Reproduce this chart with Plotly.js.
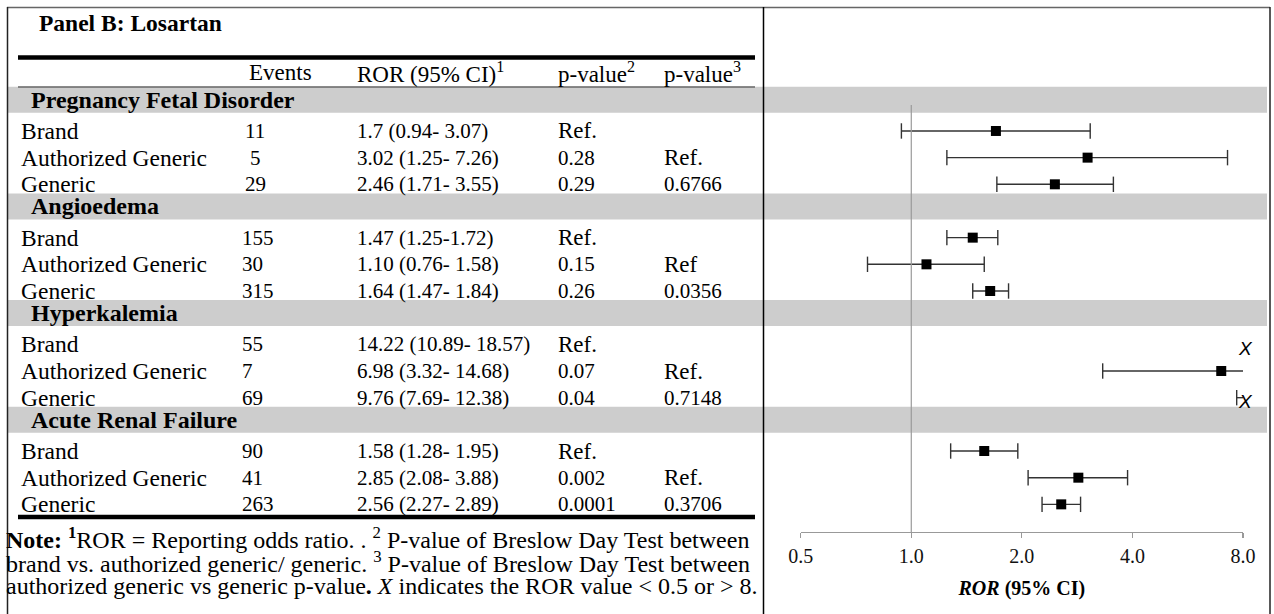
<!DOCTYPE html>
<html>
<head>
<meta charset="utf-8">
<script src="https://cdn.plot.ly/plotly-3.0.1.min.js"></script>
<style>html,body{margin:0;padding:0;background:#fff;}#chart{width:1274px;height:614px;}</style>
</head>
<body>
<div id="chart"></div>
<script>
// ---------------- data ----------------
const panelTitle = 'Panel B: Losartan';
const categories = ['Pregnancy Fetal Disorder', 'Angioedema', 'Hyperkalemia', 'Acute Renal Failure'];
const groups = ['Brand', 'Authorized Generic', 'Generic'];
const events = [[11, 5, 29], [155, 30, 315], [55, 7, 69], [90, 41, 263]];
const ror = [[1.7, 3.02, 2.46], [1.47, 1.10, 1.64], [14.22, 6.98, 9.76], [1.58, 2.85, 2.56]];
const ciLow = [[0.94, 1.25, 1.71], [1.25, 0.76, 1.47], [10.89, 3.32, 7.69], [1.28, 2.08, 2.27]];
const ciHigh = [[3.07, 7.26, 3.55], [1.72, 1.58, 1.84], [18.57, 14.68, 12.38], [1.95, 3.88, 2.89]];
const rorLabels = [
  ['1.7 (0.94- 3.07)', '3.02 (1.25- 7.26)', '2.46 (1.71- 3.55)'],
  ['1.47 (1.25-1.72)', '1.10 (0.76- 1.58)', '1.64 (1.47- 1.84)'],
  ['14.22 (10.89- 18.57)', '6.98 (3.32- 14.68)', '9.76 (7.69- 12.38)'],
  ['1.58 (1.28- 1.95)', '2.85 (2.08- 3.88)', '2.56 (2.27- 2.89)']
];
const pval2 = [['Ref.', '0.28', '0.29'], ['Ref.', '0.15', '0.26'], ['Ref.', '0.07', '0.04'], ['Ref.', '0.002', '0.0001']];
const pval3 = [['', 'Ref.', '0.6766'], ['', 'Ref', '0.0356'], ['', 'Ref.', '0.7148'], ['', 'Ref.', '0.3706']];
const headers = ['Events', 'ROR (95% CI)<sup>1</sup>', 'p-value<sup>2</sup>', 'p-value<sup>3</sup>'];
const tickVals = [0.5, 1, 2, 4, 8];
const tickText = ['0.5', '1.0', '2.0', '4.0', '8.0'];
const axisTitle = '<b><i>ROR</i> (95% CI)</b>';
const outMark = 'X';
const noteLines = [
  '<b>Note: <sup>1</sup></b>ROR = Reporting odds ratio. . <sup>2</sup> P-value of Breslow Day Test between',
  'brand vs. authorized generic/ generic. <sup>3</sup> P-value of Breslow Day Test between',
  'authorized generic vs generic p-value<b>.</b> <i>X</i> indicates the ROR value &lt; 0.5 or &gt; 8.'
];

// ---------------- layout geometry ----------------
const W = 1274, H = 614;
const ROW_PX = 26.67, ROW0 = 104.3;          // pixel centre of row index 0
const yv = p => (p - ROW0) / ROW_PX;         // pixel -> y units
const px = x => x / W;                        // pixel -> paper x
const py = y => 1 - y / H;                    // pixel -> paper y
const XMIN = 0.5, XMAX = 8;
const AXIS_Y = 532;
const SERIF = 'Liberation Serif, Times New Roman, serif';
const FS_WORD = 23.5, FS_CAT = 24, FS_NUM = 21, FS_HEAD = 23, FS_NOTE = 24;
const HEADER_OFF = -0.17;
const PAD = 3;

const colX = {label: 22, cat: 32, events: 243, ror: 358, p2: 559, p3: 665};

const rows = [];
let r = 0;
categories.forEach((c, g) => {
  rows.push({type: 'cat', g, y: r + HEADER_OFF, idx: r});
  r++;
  groups.forEach((gr, k) => { rows.push({type: 'data', g, k, y: r}); r++; });
});

const annotations = [];
const shapes = [];
const txt = (text, x, y, size, opts = {}) => annotations.push(Object.assign({
  text, x: px(x - PAD), y, xref: 'paper', yref: 'y', xanchor: 'left', yanchor: 'middle',
  showarrow: false, font: {family: SERIF, size, color: '#000'}
}, opts));
const isNum = s => /^[0-9.]+$/.test(s);

txt('<b>' + panelTitle + '</b>', 40, yv(23), 23.5);
const hy = yv(72);
txt(headers[0], 250, hy, FS_HEAD);
txt(headers[1], colX.ror, hy, FS_HEAD);
txt(headers[2], colX.p2, hy, FS_HEAD);
txt(headers[3], colX.p3, hy, FS_HEAD);

rows.forEach(row => {
  if (row.type === 'cat') {
    txt('<b>' + categories[row.g] + '</b>', colX.cat, row.y, FS_CAT);
    shapes.push({type: 'rect', xref: 'paper', yref: 'y', x0: px(7.5), x1: px(1267), y0: row.idx - 0.66, y1: row.idx + 0.315,
      fillcolor: '#cdcdcd', line: {width: 0}, layer: 'below'});
  } else {
    const g = row.g, k = row.k;
    txt(groups[k], colX.label, row.y, FS_WORD);
    if (g === 0) txt(String(events[g][k]), 255 + PAD, row.y, FS_NUM, {xanchor: 'center'});
    else txt(String(events[g][k]), colX.events, row.y, FS_NUM);
    txt(rorLabels[g][k], colX.ror, row.y, FS_NUM);
    if (pval2[g][k]) txt(pval2[g][k], colX.p2, row.y, isNum(pval2[g][k]) ? FS_NUM : FS_HEAD);
    if (pval3[g][k]) txt(pval3[g][k], colX.p3, row.y, isNum(pval3[g][k]) ? FS_NUM : FS_HEAD);
  }
});

[538, 562, 586].forEach((p, i) => txt(noteLines[i], 7, yv(p), FS_NOTE));

const hline = (y, x0, x1, color, w) => shapes.push({type: 'line', xref: 'paper', yref: 'y', x0: px(x0), x1: px(x1), y0: y, y1: y, line: {color, width: w}});
hline(yv(57.5), 18, 755, '#000', 4.5);
hline(yv(87), 18, 755, '#666', 1.5);
hline(yv(517), 18, 755, '#000', 4.5);
const pline = (x0, y0, x1, y1, color, w) => shapes.push({type: 'line', xref: 'paper', yref: 'paper', x0: px(x0), x1: px(x1), y0: py(y0), y1: py(y1), line: {color, width: w}});
pline(7, 7.5, 1270, 7.5, '#666', 1.5);
pline(7.5, 7, 7.5, H, '#222', 1.5);
pline(763.5, 7, 763.5, H, '#000', 1.5);
pline(1270, 7, 1270, H, '#222', 1.5);
shapes.push({type: 'line', xref: 'x', yref: 'y', x0: 1, x1: 1, y0: 0.03, y1: yv(AXIS_Y), line: {color: '#9a9a9a', width: 1.2}});

// ---------------- forest traces ----------------
const ptX = [], ptY = [], ciX = [], ciY = [], capX = [], capY = [];
rows.filter(d => d.type === 'data').forEach(d => {
  const v = ror[d.g][d.k], lo = ciLow[d.g][d.k], hi = ciHigh[d.g][d.k];
  const a = Math.max(lo, XMIN), b = Math.min(hi, XMAX);
  if (a < b) { ciX.push(a, b, null); ciY.push(d.y, d.y, null); }
  if (lo >= XMIN && lo <= XMAX) { capX.push(lo); capY.push(d.y); }
  if (hi >= XMIN && hi <= XMAX) { capX.push(hi); capY.push(d.y); }
  if (v >= XMIN && v <= XMAX) { ptX.push(v); ptY.push(d.y); }
  else {
    annotations.push({text: '<i>' + outMark + '</i>', x: Math.log10(v > XMAX ? XMAX : XMIN), y: d.y, xref: 'x', yref: 'y',
      xanchor: 'center', yanchor: 'middle', xshift: 2, yshift: -4, showarrow: false,
      font: {family: 'Liberation Sans, Arial, sans-serif', size: 19, color: '#000'}});
  }
});

const traces = [
  {type: 'scatter', mode: 'lines', x: ciX, y: ciY, line: {color: '#333', width: 1.4}, hoverinfo: 'skip', showlegend: false},
  {type: 'scatter', mode: 'markers', x: capX, y: capY, marker: {symbol: 'line-ns', size: 11, line: {color: '#333', width: 1.4}}, hoverinfo: 'skip', showlegend: false, cliponaxis: false},
  {type: 'scatter', mode: 'markers', x: ptX, y: ptY, marker: {symbol: 'square', size: 10, color: '#000'}, showlegend: false, cliponaxis: false}
];

const layout = {
  width: W, height: H,
  margin: {l: 0, r: 0, t: 0, b: 0, pad: 0},
  paper_bgcolor: '#fff', plot_bgcolor: 'rgba(0,0,0,0)',
  showlegend: false,
  xaxis: {
    type: 'log', range: [Math.log10(XMIN), Math.log10(XMAX)],
    domain: [px(800.7), px(1243)], anchor: 'free', position: py(AXIS_Y),
    tickvals: tickVals, ticktext: tickText, ticks: 'outside', ticklen: 5, tickcolor: '#999', tickwidth: 1.2,
    showline: true, linecolor: '#999', linewidth: 1.2, showgrid: false, zeroline: false,
    tickfont: {family: SERIF, size: 20, color: '#111'}, ticklabelstandoff: 1,
    title: {text: axisTitle, font: {family: SERIF, size: 20, color: '#000'}, standoff: 14},
    fixedrange: true
  },
  yaxis: {range: [yv(H), yv(0)], domain: [0, 1], visible: false, fixedrange: true},
  shapes, annotations
};

Plotly.newPlot('chart', traces, layout, {displayModeBar: false, staticPlot: true});
</script>
</body>
</html>
